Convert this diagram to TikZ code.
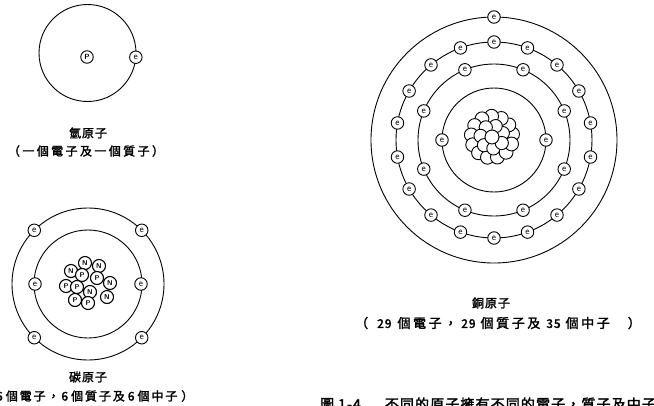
\documentclass[tikz,border=0pt]{standalone}
\usepackage{fontspec}
\newfontfamily\cjk[FakeBold=2,LetterSpace=8]{Noto Sans CJK TC}
\newfontfamily\cjkmid[FakeBold=2,LetterSpace=16]{Noto Sans CJK TC}
\newfontfamily\cjkwide[FakeBold=2,LetterSpace=20]{Noto Sans CJK TC}
\newcommand\digits[1]{{\cjk\fontsize{12}{12}\selectfont #1}}
\usetikzlibrary{calc}
\begin{document}
\begin{tikzpicture}[x=1pt,y=-1pt,
  orbit/.style={line width=0.9pt},
  elec/.style={circle,draw,fill=white,line width=0.9pt,inner sep=0pt,
    minimum size=12.5pt,font=\fontsize{9.5}{9.5}\selectfont\sffamily},
  nuc/.style={circle,draw,fill=white,line width=1.1pt,inner sep=0pt,
    minimum size=13pt,font=\fontsize{7}{7}\selectfont\sffamily\bfseries},
  ball/.style={draw,fill=white,line width=0.9pt},
  title/.style={inner sep=0pt,font=\cjk\fontsize{12}{12}\selectfont},
  caption/.style={inner sep=0pt,anchor=west,font=\cjkmid\fontsize{12}{12}\selectfont},
]
\useasboundingbox (0,0) rectangle (654,405);
\clip (0,0) rectangle (654,405);

% ---------- hydrogen ----------
\coordinate (h) at (87.5,53);
\draw[orbit] (h) circle (48.5pt);
\node[elec,font=\fontsize{7.5}{7.5}\selectfont\sffamily\bfseries] (hp) at (87,57) {P};
\node[elec] (he) at ([shift={(-5:48.5pt)}]h) {e};
\node[title] (hname) at (88,133) {氫原子};
\node[inner sep=0pt,font=\cjkwide\fontsize{12}{12}\selectfont] (hdesc) at (86,151) {（一個電子及一個質子）};

% ---------- carbon ----------
\coordinate (c) at (88,284);
\draw[orbit] (c) circle (76pt);
\draw[orbit] (c) circle (54pt);
\foreach \a [count=\i] in {45,135,225,315}
  \node[elec] (ce\i) at ([shift={(\a:76pt)}]c) {e};
\foreach \a [count=\i] in {0,180}
  \node[elec] (ci\i) at ([shift={(\a:53pt)}]c) {e};
\foreach \x/\y/\t [count=\i] in {85/263/N,99/266/N,71/271/N,82/275/P,97/278/P,
    110/283/N,66/286/P,77/287/P,90/292/N,107/297/N,75/300/P,88/303/P}
  \node[nuc] (cn\i) at (\x,\y) {\t};
\node[title] (cname) at (88,377) {碳原子};
\node[caption] (cdesc) at (-18,396)
  {（6\hspace{3pt}個電子，6\hspace{3pt}個質子及\hspace{3pt}6\hspace{3pt}個中子\hspace{4pt}）};

% ---------- copper ----------
\coordinate (cu) at (494,140);
\foreach \r in {52,76,98,123}
  \draw[orbit] (cu) circle (\r pt);
% small break in the third shell
\draw[white,line width=2.5pt] ([shift={(206:98pt)}]cu) arc[start angle=206,end angle=213,radius=98pt];
\foreach \a [count=\i] in {0,180}
  \node[elec] (cua\i) at ([shift={(\a:52pt)}]cu) {e};
\foreach \k [count=\i] in {0,...,7}
  \node[elec] (cub\i) at ([shift={(22.5+45*\k:76pt)}]cu) {e};
\foreach \k [count=\i] in {0,...,17}
  \node[elec] (cuc\i) at ([shift={(10+20*\k:98pt)}]cu) {e};
\node[elec] (cud1) at ([shift={(90:123pt)}]cu) {e};

% nucleus: a packed cluster of nucleons
\coordinate (cun) at (492,137);
\foreach \k in {0,...,12}
  \draw[ball] ([shift={(\k*27.7+8:20.8pt)}]cun) circle (6.9pt);
\foreach \k in {0,...,6}
  \draw[ball] ([shift={(\k*51.4+20:11.5pt)}]cun) circle (6.6pt);
\draw[ball] (cun) circle (7pt);

\node[title] (cuname) at (491,303) {銅原子};
\node[caption,font=\cjkwide\fontsize{13}{13}\selectfont] (cudesc) at (355,323)
  {（\hspace{9pt}\digits{29}\hspace{6pt}個電子，\hspace{4pt}\digits{29}\hspace{5pt}個質子及\hspace{6pt}\digits{35}\hspace{5pt}個中子\hspace{18pt}）};

% ---------- figure caption ----------
\node[caption,font=\cjk\fontsize{14}{14}\selectfont] (fig) at (320,404)
  {圖\hspace{4pt}1-4\hspace{24pt}不同的原子擁有不同的電子，質子及中子};
\end{tikzpicture}
\end{document}
